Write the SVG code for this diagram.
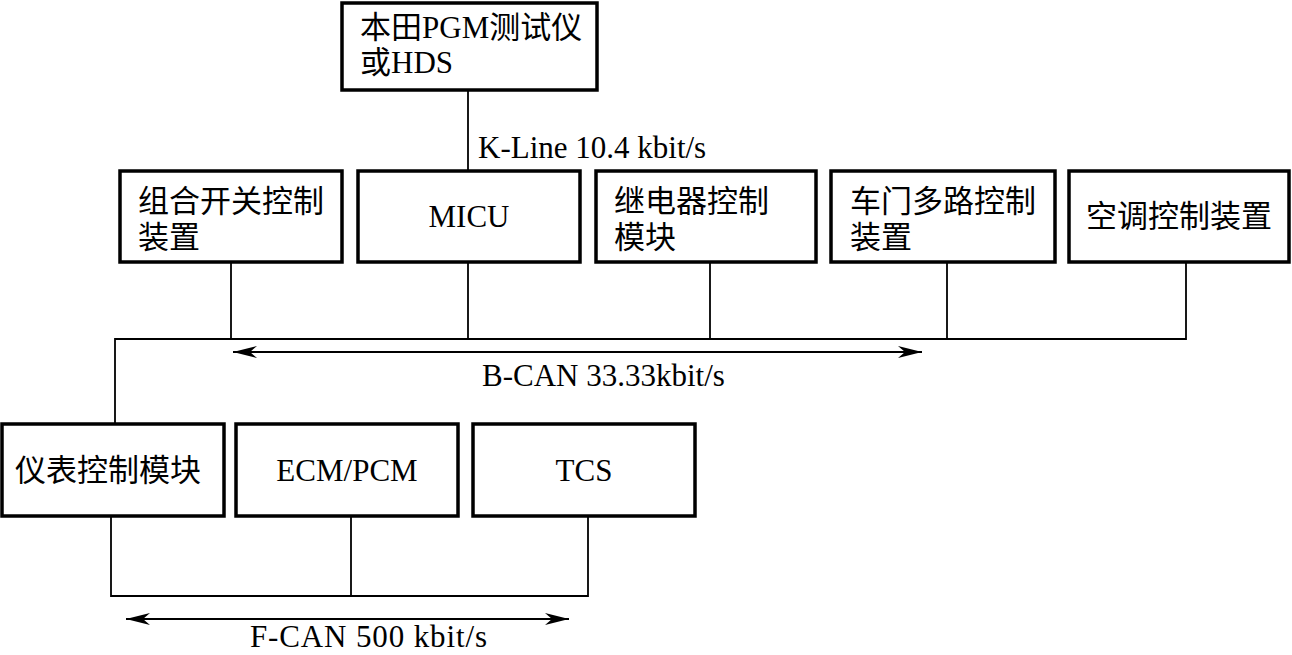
<svg xmlns="http://www.w3.org/2000/svg" width="1292" height="655" viewBox="0 0 1292 655">
<style>
.box{fill:#fff;stroke:#000;stroke-width:3.5}
.ln{fill:none;stroke:#000;stroke-width:1.8}
text{font-family:"Liberation Serif","Noto Sans CJK SC",serif;font-size:31px;fill:#000}
.c{text-anchor:middle}
</style>
<defs>
<marker id="ah" viewBox="0 0 24 12" refX="24" refY="6" markerWidth="24" markerHeight="12" markerUnits="userSpaceOnUse" orient="auto-start-reverse">
<path d="M0,0 L24,6 L0,12 L7,6 Z" fill="#000"/>
</marker>
</defs>
<g id="connectors">
<line class="ln" x1="468" y1="90" x2="468" y2="170"/>
<polyline class="ln" points="115,424 115,339 1186,339 1186,262"/>
<line class="ln" x1="231" y1="262" x2="231" y2="339"/>
<line class="ln" x1="468" y1="262" x2="468" y2="339"/>
<line class="ln" x1="710" y1="262" x2="710" y2="339"/>
<line class="ln" x1="947" y1="262" x2="947" y2="339"/>
<line class="ln" x1="233" y1="352" x2="922" y2="352" marker-start="url(#ah)" marker-end="url(#ah)"/>
<polyline class="ln" points="111,516 111,596 588,596 588,516"/>
<line class="ln" x1="351" y1="516" x2="351" y2="596"/>
<line class="ln" x1="126" y1="619" x2="569" y2="619" marker-start="url(#ah)" marker-end="url(#ah)"/>
<text x="478" y="158">K-Line 10.4 kbit/s</text>
<text x="482" y="386">B-CAN 33.33kbit/s</text>
<text x="250" y="647" textLength="237">F-CAN 500 kbit/s</text>
</g>
<g id="tester">
<rect class="box" x="342" y="3" width="255" height="87"/>
<text x="360" y="38">本田PGM测试仪</text>
<text x="360" y="73">或HDS</text>
</g>
<g id="combo-switch">
<rect class="box" x="120" y="171" width="222" height="91"/>
<text x="138" y="212">组合开关控制</text>
<text x="138" y="248">装置</text>
</g>
<g id="micu">
<rect class="box" x="358" y="171" width="222" height="91"/>
<text class="c" x="469" y="227">MICU</text>
</g>
<g id="relay">
<rect class="box" x="596" y="171" width="220" height="91"/>
<text x="614" y="212">继电器控制</text>
<text x="614" y="248">模块</text>
</g>
<g id="door">
<rect class="box" x="831" y="171" width="224" height="91"/>
<text x="850" y="212">车门多路控制</text>
<text x="850" y="248">装置</text>
</g>
<g id="ac">
<rect class="box" x="1069" y="171" width="220" height="91"/>
<text class="c" x="1179" y="227">空调控制装置</text>
</g>
<g id="gauge">
<rect class="box" x="2" y="424" width="222" height="92"/>
<text x="15" y="481">仪表控制模块</text>
</g>
<g id="ecm">
<rect class="box" x="236" y="424" width="222" height="92"/>
<text class="c" x="347" y="481">ECM/PCM</text>
</g>
<g id="tcs">
<rect class="box" x="473" y="424" width="222" height="92"/>
<text class="c" x="584" y="481">TCS</text>
</g>
</svg>
